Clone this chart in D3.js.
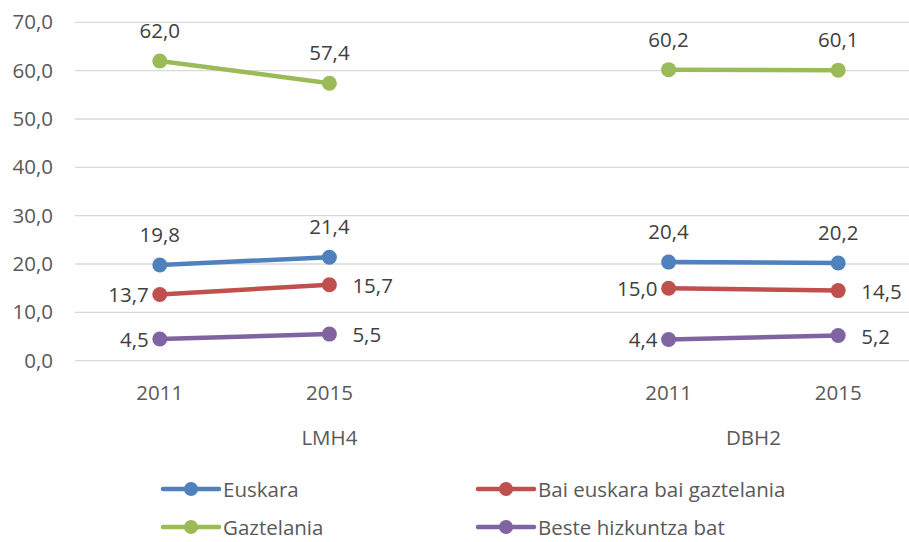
<!DOCTYPE html>
<html>
<head>
<meta charset="utf-8">
<script src="https://cdn.jsdelivr.net/npm/d3@7"></script>
<style>
  html, body { margin: 0; padding: 0; background: #fff; }
  svg { display: block; font-family: "Open Sans", "DejaVu Sans", sans-serif; }
</style>
</head>
<body>
<svg id="chart" width="909" height="542"></svg>
<script>
// ---- data ----
const categories = ["2011", "2015", "", "2011", "2015"];
const groupLabels = ["LMH4", "DBH2"];
const groupSizes = [3, 2];
const yTicks = [0, 10, 20, 30, 40, 50, 60, 70];

const seriesNames = ["Euskara", "Bai euskara bai gaztelania", "Gaztelania", "Beste hizkuntza bat"];
const euskara    = [19.8, 21.4, null, 20.4, 20.2];
const baiBai     = [13.7, 15.7, null, 15.0, 14.5];
const gaztelania = [62.0, 57.4, null, 60.2, 60.1];
const beste      = [4.5, 5.5, null, 4.4, 5.2];
const seriesColors = ["#4F81BD", "#C0504D", "#9BBB59", "#8064A2"];
const labelSides = [
  ["above", "above", null, "above", "above"],
  ["left", "right", null, "left", "right"],
  ["above", "above", null, "above", "above"],
  ["left", "right", null, "left", "right"]
];

const seriesValues = [euskara, baiBai, gaztelania, beste];

// ---- layout ----
const FS = 20.5;
const svg = d3.select("#chart");
const plot = { left: 75, right: 923, top: 22.3, bottom: 360.7 };

const x = d3.scaleBand()
  .domain(categories.map((d, i) => i))
  .range([plot.left, plot.right]);
const y = d3.scaleLinear().domain([0, 70]).range([plot.bottom, plot.top]);
const cx = i => x(i) + x.bandwidth() / 2;
const fmt = v => d3.format(".1f")(v).replace(".", ",");

// gridlines
svg.append("g").selectAll("line").data(yTicks).join("line")
  .attr("x1", plot.left).attr("x2", plot.right)
  .attr("y1", d => y(d)).attr("y2", d => y(d))
  .attr("stroke", "#d9d9d9").attr("stroke-width", 1.3);

// y axis labels
const yAxis = d3.axisLeft(y).tickValues(yTicks).tickFormat(fmt).tickSize(0).tickPadding(0);
const yg = svg.append("g").attr("transform", "translate(53,0)").call(yAxis);
yg.select(".domain").remove();
yg.selectAll("text").attr("font-size", FS).attr("fill", "#595959")
  .attr("font-family", "'Open Sans', sans-serif");

// x axis labels
const xAxis = d3.axisBottom(x).tickFormat(i => categories[i]).tickSize(0).tickPadding(0);
const xg = svg.append("g").attr("transform", "translate(0,392)").call(xAxis);
xg.select(".domain").remove();
xg.selectAll("text").attr("font-size", FS).attr("fill", "#595959")
  .attr("font-family", "'Open Sans', sans-serif")
  .attr("y", 0).attr("dy", null).attr("dominant-baseline", "central");

// group labels
let start = 0;
groupLabels.forEach((g, gi) => {
  const s = start, e = start + groupSizes[gi] - 1;
  const mid = (x(s) + x(e) + x.bandwidth()) / 2;
  svg.append("text").attr("x", mid).attr("y", 437)
    .attr("text-anchor", "middle").attr("dominant-baseline", "central")
    .attr("font-size", FS).attr("fill", "#595959").text(g);
  start += groupSizes[gi];
});

// lines
const line = d3.line()
  .defined(d => d.v !== null)
  .x(d => cx(d.i)).y(d => y(d.v));

seriesValues.forEach((vals, si) => {
  const pts = vals.map((v, i) => ({ v, i }));
  const g = svg.append("g");
  g.append("path").datum(pts)
    .attr("d", line).attr("fill", "none")
    .attr("stroke", seriesColors[si]).attr("stroke-width", 4.5)
    .attr("stroke-linecap", "round");
  g.selectAll("circle").data(pts.filter(d => d.v !== null)).join("circle")
    .attr("cx", d => cx(d.i)).attr("cy", d => y(d.v)).attr("r", 7.5)
    .attr("fill", seriesColors[si]);
  g.selectAll("text").data(pts.filter(d => d.v !== null)).join("text")
    .attr("x", d => {
      const side = labelSides[si][d.i];
      if (side === "left") return cx(d.i) - 11;
      if (side === "right") return cx(d.i) + 23;
      return cx(d.i);
    })
    .attr("y", d => labelSides[si][d.i] === "above" ? y(d.v) - 31 : y(d.v))
    .attr("text-anchor", d => {
      const side = labelSides[si][d.i];
      return side === "left" ? "end" : side === "right" ? "start" : "middle";
    })
    .attr("dominant-baseline", "central")
    .attr("font-size", FS).attr("fill", "#404040")
    .text(d => fmt(d.v));
});

// legend
const legendPos = [
  { x: 163, y: 489 }, { x: 478, y: 489 },
  { x: 163, y: 527 }, { x: 478, y: 527 }
];
seriesNames.forEach((name, si) => {
  const p = legendPos[si];
  const g = svg.append("g").attr("transform", `translate(${p.x},${p.y})`);
  g.append("line").attr("x1", 0).attr("x2", 56).attr("y1", 0).attr("y2", 0)
    .attr("stroke", seriesColors[si]).attr("stroke-width", 4.5).attr("stroke-linecap", "round");
  g.append("circle").attr("cx", 28).attr("cy", 0).attr("r", 7).attr("fill", seriesColors[si]);
  g.append("text").attr("x", 60).attr("y", 0)
    .attr("dominant-baseline", "central")
    .attr("font-size", FS).attr("fill", "#595959").text(name);
});
</script>
</body>
</html>
